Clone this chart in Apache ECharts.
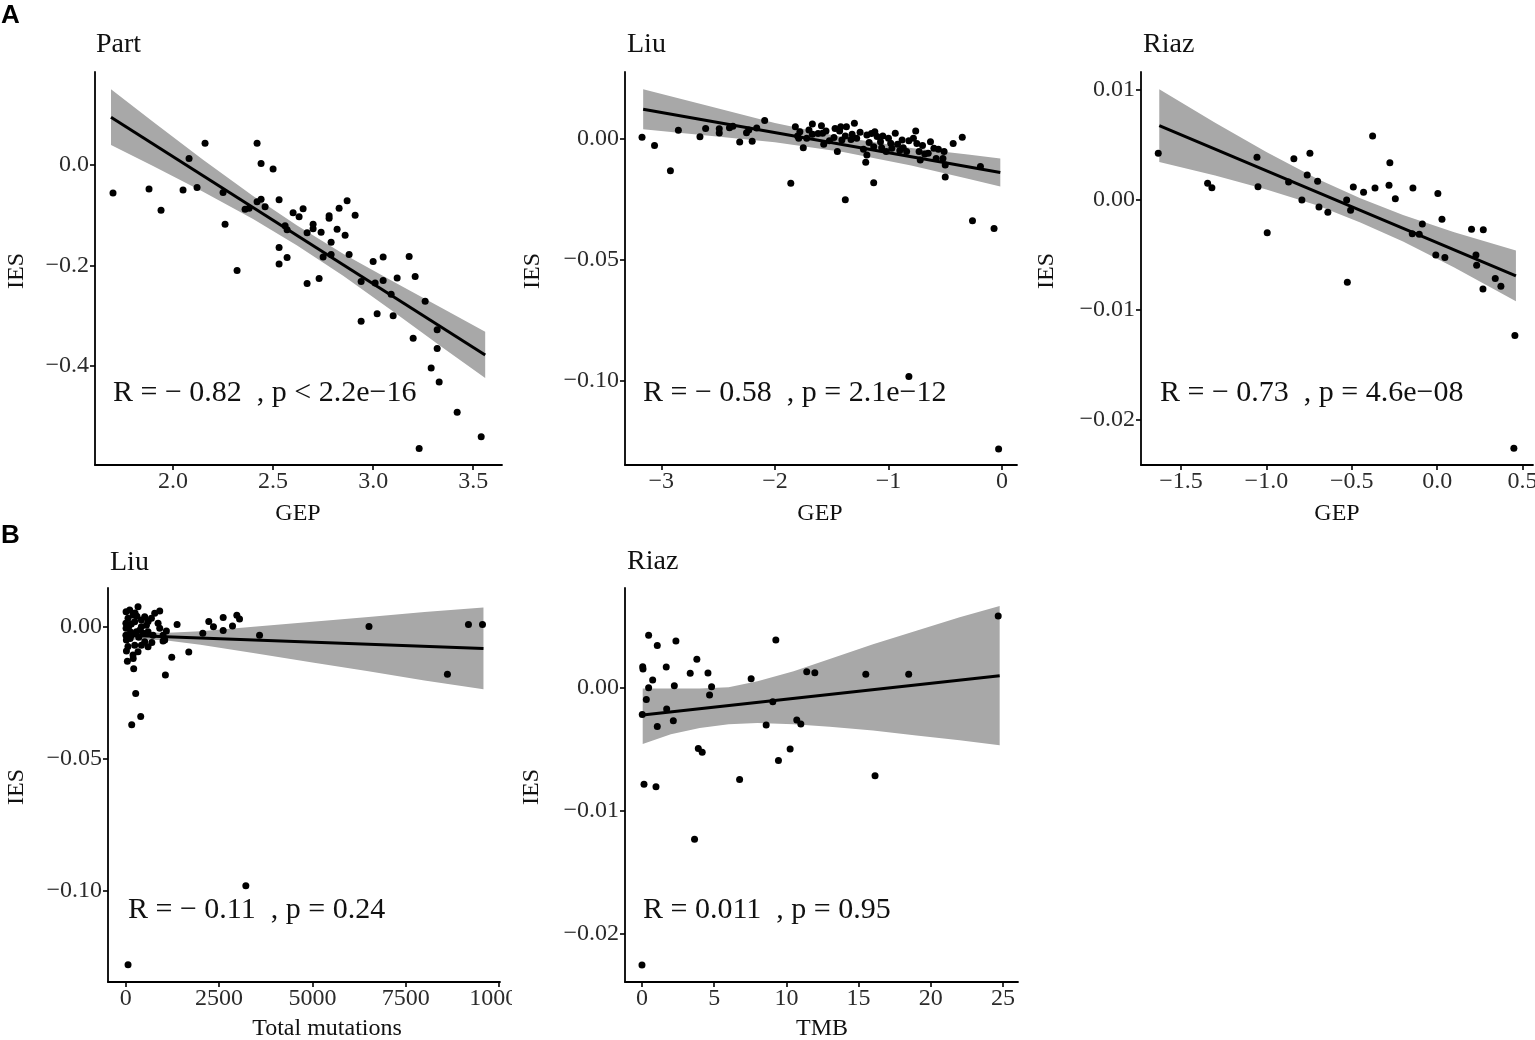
<!DOCTYPE html>
<html>
<head>
<meta charset="utf-8">
<title>IES correlation panels</title>
<script src="https://cdn.jsdelivr.net/npm/echarts@6/dist/echarts.min.js"></script>
<style>
	body { margin: 0; background: #fff; }
	#wrap { position: relative; width: 1535px; height: 1040px; overflow: hidden; }
	.panel { position: absolute; }
</style>
</head>
<body>
<div id="wrap">
	<div class="panel" id="a1" style="left:0;top:0;width:510px;height:535px"></div>
	<div class="panel" id="a2" style="left:510px;top:0;width:510px;height:535px"></div>
	<div class="panel" id="a3" style="left:1020px;top:0;width:515px;height:535px"></div>
	<div class="panel" id="b1" style="left:0;top:520px;width:512px;height:520px"></div>
	<div class="panel" id="b2" style="left:512px;top:520px;width:508px;height:520px"></div>
</div>
<script>
// ---- A: Part, GEP vs IES
var partX = [1.70, 1.88, 1.94, 2.05, 2.08, 2.12, 2.16, 2.25, 2.26, 2.32, 2.36, 2.38, 2.42, 2.42, 2.44, 2.44, 2.46, 2.50, 2.53, 2.53,
	2.53, 2.56, 2.57, 2.57, 2.60, 2.63, 2.65, 2.67, 2.67, 2.70, 2.70, 2.73, 2.74, 2.75, 2.78, 2.78, 2.79, 2.79, 2.82, 2.83,
	2.86, 2.87, 2.88, 2.91, 2.94, 2.94, 3.00, 3.01, 3.02, 3.05, 3.05, 3.09, 3.10, 3.12, 3.18, 3.20, 3.21, 3.23, 3.26, 3.29,
	3.32, 3.32, 3.33, 3.42, 3.54];
var partY = [-0.056, -0.048, -0.090, -0.050, 0.013, -0.045, 0.043, -0.055, -0.118, -0.210, -0.088, -0.086, -0.073, 0.043, 0.003, -0.068, -0.083, -0.008, -0.069, -0.164,
	-0.197, -0.121, -0.129, -0.184, -0.095, -0.103, -0.087, -0.236, -0.135, -0.118, -0.127, -0.226, -0.134, -0.183, -0.101, -0.106, -0.154, -0.178, -0.128, -0.086,
	-0.140, -0.071, -0.178, -0.100, -0.311, -0.232, -0.192, -0.235, -0.296, -0.183, -0.230, -0.257, -0.300, -0.225, -0.182, -0.345, -0.222, -0.564, -0.271, -0.404,
	-0.328, -0.365, -0.432, -0.492, -0.541];
var partFitX = [1.69, 3.56];
var partFitY = [0.095, -0.378];
var partBandX = [1.69, 1.9, 2.15, 2.4, 2.62, 2.85, 3.1, 3.35, 3.56];
var partBandHi = [0.1505, 0.0859, 0.0106, -0.0616, -0.1203, -0.1765, -0.2317, -0.286, -0.332];
var partBandLo = [0.0395, -0.0021, -0.0534, -0.1076, -0.1603, -0.2205, -0.2917, -0.364, -0.424];

// ---- A: Liu, GEP vs IES
var liuGepX = [-3.17, -3.06, -2.92, -2.85, -2.66, -2.61, -2.49, -2.49, -2.40, -2.37, -2.31, -2.25, -2.23, -2.20, -2.16, -2.09, -1.86, -1.38, -1.13, -0.82, -0.50, -0.43, -0.35, -0.26, -0.19, -0.07, -0.03,
	-1.82, -1.78, -1.79, -1.75, -1.70, -1.67, -1.67, -1.59, -1.58, -1.57, -1.55, -1.47, -1.48, -1.45, -1.42, -1.43, -1.41, -1.37, -1.30, -1.32,
	-1.28, -1.19, -1.19, -1.20, -1.17, -1.12, -1.10, -1.07, -1.13, -1.06, -1.00, -0.94, -0.97, -0.88, -0.87, -0.84, -0.76, -0.78, -0.75, -0.73,
	-0.72, -0.63, -0.65, -0.60, -0.58, -0.51, -0.52, -0.50,
	-1.80, -1.72, -1.62, -1.52, -1.38, -1.33, -1.25, -1.15, -1.05, -0.98, -0.92, -0.82, -0.70, -0.68, -0.56, -1.22, -1.02, -0.90];
var liuGepY = [0.0004, -0.0030, -0.0134, 0.0033, 0.0006, 0.0041, 0.0039, 0.0022, 0.0044, 0.0050, -0.0015, 0.0023, 0.0034, -0.0012, 0.0043, 0.0074, -0.0186, -0.0254, -0.0184, -0.0984, -0.0160, -0.0021, 0.0004, -0.0341, -0.0117, -0.0373, -0.1284,
	0.0048, 0.0027, 0.0000, -0.0039, 0.0034, 0.0059, 0.0017, 0.0052, 0.0021, -0.0025, 0.0030, 0.0041, 0.0003, -0.0055, 0.0048, 0.0030, -0.0007, 0.0048, 0.0062, 0.0017,
	0.0000, 0.0014, -0.0069, -0.0099, -0.0017, 0.0027, 0.0007, -0.0014, -0.0035, -0.0039, 0.0000, 0.0021, -0.0041, -0.0007, -0.0039, -0.0055, 0.0030, 0.0000, -0.0021, -0.0055,
	-0.0090, -0.0014, -0.0062, -0.0041, -0.0083, -0.0055, -0.0083, -0.0110,
	0.0010, 0.0000, 0.0020, -0.0010, 0.0010, -0.0005, 0.0025, 0.0020, 0.0010, -0.0020, -0.0025, -0.0010, -0.0030, -0.0065, -0.0045, -0.0045, -0.0055, -0.0050];
var liuGepFitX = [-3.16, -0.015];
var liuGepFitY = [0.012, -0.0141];
var liuGepBandX = [-3.16, -2.6, -2.0, -1.4, -0.8, -0.3, -0.015];
var liuGepBandHi = [0.0203, 0.01355, 0.00637, 0.00039, -0.00399, -0.00674, -0.0083];
var liuGepBandLo = [0.0037, 0.00115, -0.00163, -0.00561, -0.01119, -0.01674, -0.0199];

// ---- A: Riaz, GEP vs IES
var riazGepX = [-1.633, -1.344, -1.319, -1.055, -1.049, -0.995, -0.870, -0.839, -0.792, -0.761, -0.745, -0.700, -0.692, -0.640, -0.530, -0.526, -0.507, -0.491, -0.431, -0.378,
	-0.364, -0.282, -0.277, -0.245, -0.146, -0.142, -0.105, -0.087, -0.008, 0.004, 0.028, 0.045, 0.201, 0.227, 0.231, 0.270, 0.268, 0.340, 0.373, 0.455, 0.449];
var riazGepY = [0.00424, 0.00152, 0.00112, 0.00388, 0.00121, -0.00297, 0.00164, 0.00376, 0.0, 0.00227, 0.00424, 0.0017, -0.00064, -0.00112, 0.0, -0.00748, -0.00094, 0.00118, 0.0007, 0.00582,
	0.00109, 0.00133, 0.00339, 0.00012, -0.00306, 0.00109, -0.00312, -0.00218, -0.005, 0.0006, -0.00176, -0.00524, -0.00267, -0.005, -0.00594, -0.0027, -0.00809, -0.00715, -0.00785, -0.01233, -0.02258];
var riazGepFitX = [-1.627, 0.461];
var riazGepFitY = [0.00676, -0.0069];
var riazGepBandX = [-1.627, -1.3, -1.0, -0.7, -0.45, -0.2, 0.1, 0.461];
var riazGepBandHi = [0.01006, 0.00702, 0.00436, 0.0019, 0.00016, -0.00137, -0.00293, -0.0046];
var riazGepBandLo = [0.00346, 0.00222, 0.00096, -0.0005, -0.00204, -0.00377, -0.00613, -0.0092];

// ---- B: Liu, total mutations vs IES
var liuMutX = [63, 3217, 161, 402, 268, 214, 45, 20, 1063, 1233, 1689, 1376, 2064, 2225, 2350, 2610, 2610, 2860, 2976, 3048, 3584, 6515, 8615, 9178, 9554,
	10, 107, 330, 509, 777, 911, 689, 867, 911, 1090, 1000, 5, 10, 5, 18, 196, 330, 420, 509, 598, 241, 152, 286, 465, 420, 241, 420, 554, 598, 62, 196, 732, 1000, 1045,
	80, 130, 150, 300, 350, 60, 120, 600, 380, 250, 700, 200];
var liuMutY = [-0.1280, -0.0981, -0.0371, -0.0340, -0.0253, -0.0159, -0.0131, -0.0092, -0.0183, -0.0116, -0.0096, 0.0008, -0.0025, 0.0020, 0.0000, 0.0035, -0.0014, 0.0003, 0.0043, 0.0029, -0.0032, 0.0001, -0.0180, 0.0008, 0.0008,
	0.0057, 0.0063, 0.0076, 0.0038, 0.0051, 0.0060, 0.0032, 0.0013, -0.0006, -0.0016, -0.0054, 0.0013, -0.0006, -0.0032, -0.0050, -0.0107, -0.0095, -0.0070, -0.0057, -0.0076, -0.0070, -0.0032, -0.0019, -0.0025, 0.0000, 0.0019, 0.0025, 0.0006, -0.0019, 0.0032, 0.0044, -0.0032, -0.0032, -0.0050,
	0.0000, -0.0020, 0.0010, 0.0040, -0.0040, -0.0075, -0.0045, 0.0020, -0.0012, 0.0052, -0.0060, -0.0120];
var liuMutFitX = [0, 9580];
var liuMutFitY = [-0.0032, -0.0082];
var liuMutBandX = [0, 1000, 2000, 3500, 5000, 6500, 8000, 9580];
var liuMutBandHi = [-0.0015, -0.0024, -0.0017, 0.0001, 0.0019, 0.0037, 0.0056, 0.0073];
var liuMutBandLo = [-0.0049, -0.0050, -0.0068, -0.0101, -0.0135, -0.0169, -0.0204, -0.0237];

// ---- B: Riaz, TMB vs IES
var riazTmbX = [0.0, 0.02, 0.05, 0.07, 0.14, 0.30, 0.46, 0.46, 0.74, 0.97, 1.06, 1.06, 1.68, 1.71, 2.17, 2.24, 2.35, 3.34, 3.64, 3.80,
	3.90, 4.17, 4.57, 4.68, 4.82, 6.76, 7.56, 8.60, 9.06, 9.27, 9.45, 10.26, 10.72, 11.00, 11.41, 11.97, 15.50, 16.14, 18.47, 24.67];
var riazTmbY = [-0.02255, -0.0022, 0.00168, 0.00149, -0.00786, -0.00098, 0.00423, -0.00003, 0.0006, -0.00808, 0.00339, -0.00317, 0.00165, -0.00176, -0.00271, 0.00014, 0.00377, 0.00114, -0.01233, 0.00228,
	-0.00496, -0.00528, 0.00117, -0.00062, 0.00005, -0.00748, 0.0007, -0.00306, -0.00117, 0.00385, -0.00593, -0.00501, -0.00266, -0.00298, 0.00127, 0.00119, 0.00106, -0.00718, 0.00106, 0.0058];
var riazTmbFitX = [0.05, 24.77];
var riazTmbFitY = [-0.00225, 0.00095];
var riazTmbBandX = [0.05, 2, 4, 6, 8, 10.5, 13, 16, 19, 22, 24.77];
var riazTmbBandHi = [-0.0001, -0.0001, -0.0001, 0.0000, 0.0005, 0.0013, 0.0023, 0.0035, 0.0046, 0.0057, 0.0066];
var riazTmbBandLo = [-0.0046, -0.0038, -0.0033, -0.0030, -0.0029, -0.0030, -0.0032, -0.0035, -0.0039, -0.0043, -0.0047];

// 刻度
var partXTicks = [2.0, 2.5, 3.0, 3.5], partXLabels = ['2.0', '2.5', '3.0', '3.5'];
var partYTicks = [0, -0.2, -0.4], partYLabels = ['0.0', '\u22120.2', '\u22120.4'];
var liuGepXTicks = [-3, -2, -1, 0], liuGepXLabels = ['\u22123', '\u22122', '\u22121', '0'];
var liuYTicks = [0, -0.05, -0.1], liuYLabels = ['0.00', '\u22120.05', '\u22120.10'];
var riazGepXTicks = [-1.5, -1.0, -0.5, 0, 0.5], riazGepXLabels = ['\u22121.5', '\u22121.0', '\u22120.5', '0.0', '0.5'];
var riazGepYTicks = [0.01, 0, -0.01, -0.02], riazGepYLabels = ['0.01', '0.00', '\u22120.01', '\u22120.02'];
var liuMutXTicks = [0, 2500, 5000, 7500, 10000], liuMutXLabels = ['0', '2500', '5000', '7500', '10000'];
var riazTmbXTicks = [0, 5, 10, 15, 20, 25], riazTmbXLabels = ['0', '5', '10', '15', '20', '25'];
var riazTmbYTicks = [0, -0.01, -0.02], riazTmbYLabels = ['0.00', '\u22120.01', '\u22120.02'];

var serif = '"Liberation Serif", "Times New Roman", serif';
var bandColor = '#a8a8a8';

function labeler(ticks, labels) {
	return function (v) {
		for (var i = 0; i < ticks.length; i++) {
			if (Math.abs(ticks[i] - v) < 1e-7 * Math.max(1, Math.abs(v))) return labels[i];
		}
		return '';
	};
}

function valueAxis(range, ticks, labels, isX) {
	return {
		type: 'value',
		min: range[0],
		max: range[1],
		axisLine: { show: true, onZero: false, lineStyle: { color: '#000', width: 1.8 } },
		axisTick: { show: true, customValues: ticks, length: 5, lineStyle: { color: '#000', width: 1.6 } },
		axisLabel: {
			customValues: ticks,
			formatter: labeler(ticks, labels),
			fontFamily: serif,
			fontSize: 24,
			color: '#2b2b2b',
			margin: isX ? 5 : 6
		},
		splitLine: { show: false }
	};
}

function text(x, y, str, size, extra) {
	var el = {
		type: 'text',
		x: x,
		y: y,
		style: {
			text: str,
			fontFamily: serif,
			fontSize: size,
			fill: '#111',
			textAlign: 'left',
			textVerticalAlign: 'middle',
			align: 'left',
			verticalAlign: 'middle'
		}
	};
	if (extra) {
		for (var k in extra) {
			if (k === 'style') {
				for (var s in extra.style) el.style[s] = extra.style[s];
			} else {
				el[k] = extra[k];
			}
		}
	}
	return el;
}

function pairs(xs, ys) {
	return xs.map(function (x, i) { return [x, ys[i]]; });
}

function makePanel(id, cfg) {
	var chart = echarts.init(document.getElementById(id), null, { renderer: 'canvas' });
	var graphics = [
		text(cfg.titlePos[0], cfg.titlePos[1], cfg.title, 28),
		text(cfg.yNamePos[0], cfg.yNamePos[1], 'IES', 24, {
			rotation: Math.PI / 2,
			style: { textAlign: 'center', align: 'center' }
		}),
		text(cfg.xNamePos[0], cfg.xNamePos[1], cfg.xName, 24, {
			style: { textAlign: 'center', align: 'center' }
		}),
		text(cfg.statPos[0], cfg.statPos[1], cfg.stat, 30)
	];
	if (cfg.letter) {
		graphics.push({
			type: 'text', x: 1, y: 16,
			style: {
				text: cfg.letter, fontFamily: '"Liberation Sans", Arial, sans-serif', fontWeight: 'bold',
				fontSize: 26, fill: '#000', textVerticalAlign: 'middle', verticalAlign: 'middle'
			}
		});
	}
	chart.setOption({
		animation: false,
		backgroundColor: 'transparent',
		grid: {
			left: cfg.grid[0], top: cfg.grid[1], width: cfg.grid[2], height: cfg.grid[3],
			containLabel: false, outerBoundsMode: 'none'
		},
		xAxis: valueAxis(cfg.xRange, cfg.xTicks, cfg.xLabels, true),
		yAxis: valueAxis(cfg.yRange, cfg.yTicks, cfg.yLabels, false),
		graphic: graphics,
		series: [
			{
				// 置信区间
				type: 'custom',
				silent: true,
				z: 1,
				data: [[cfg.bandX[0], cfg.bandLo[0]]],
				renderItem: function (params, api) {
					var pts = [];
					for (var i = 0; i < cfg.bandX.length; i++) pts.push(api.coord([cfg.bandX[i], cfg.bandHi[i]]));
					for (var j = cfg.bandX.length - 1; j >= 0; j--) pts.push(api.coord([cfg.bandX[j], cfg.bandLo[j]]));
					return { type: 'polygon', shape: { points: pts }, style: { fill: bandColor } };
				}
			},
			{
				type: 'scatter',
				silent: true,
				z: 2,
				symbol: 'circle',
				symbolSize: 7,
				itemStyle: { color: '#000', opacity: 1 },
				data: pairs(cfg.x, cfg.y)
			},
			{
				type: 'line',
				silent: true,
				z: 3,
				symbol: 'none',
				lineStyle: { color: '#000', width: 3 },
				data: pairs(cfg.fitX, cfg.fitY)
			}
		]
	});
	return chart;
}

makePanel('a1', {
	letter: 'A', title: 'Part', titlePos: [96, 45],
	grid: [95, 72, 407, 393], xRange: [1.61, 3.644], yRange: [-0.597, 0.185],
	xTicks: partXTicks, xLabels: partXLabels, yTicks: partYTicks, yLabels: partYLabels,
	x: partX, y: partY, fitX: partFitX, fitY: partFitY,
	bandX: partBandX, bandHi: partBandHi, bandLo: partBandLo,
	xName: 'GEP', xNamePos: [298, 514], yNamePos: [17, 271],
	stat: 'R = \u2212 0.82  , p < 2.2e\u221216', statPos: [113, 393]
});

makePanel('a2', {
	title: 'Liu', titlePos: [117, 45],
	grid: [115, 72, 392, 393], xRange: [-3.32, 0.132], yRange: [-0.135, 0.0274],
	xTicks: liuGepXTicks, xLabels: liuGepXLabels, yTicks: liuYTicks, yLabels: liuYLabels,
	x: liuGepX, y: liuGepY, fitX: liuGepFitX, fitY: liuGepFitY,
	bandX: liuGepBandX, bandHi: liuGepBandHi, bandLo: liuGepBandLo,
	xName: 'GEP', xNamePos: [310, 514], yNamePos: [23, 271],
	stat: 'R = \u2212 0.58  , p = 2.1e\u221212', statPos: [133, 393]
});

makePanel('a3', {
	title: 'Riaz', titlePos: [123, 45],
	grid: [121, 72, 392, 393], xRange: [-1.734, 0.561], yRange: [-0.0241, 0.01164],
	xTicks: riazGepXTicks, xLabels: riazGepXLabels, yTicks: riazGepYTicks, yLabels: riazGepYLabels,
	x: riazGepX, y: riazGepY, fitX: riazGepFitX, fitY: riazGepFitY,
	bandX: riazGepBandX, bandHi: riazGepBandHi, bandLo: riazGepBandLo,
	xName: 'GEP', xNamePos: [317, 514], yNamePos: [27, 271],
	stat: 'R = \u2212 0.73  , p = 4.6e\u221208', statPos: [140, 393]
});

makePanel('b1', {
	letter: 'B', title: 'Liu', titlePos: [110, 43],
	grid: [108, 68, 392, 394], xRange: [-474, 10023], yRange: [-0.1345, 0.01466],
	xTicks: liuMutXTicks, xLabels: liuMutXLabels, yTicks: liuYTicks, yLabels: liuYLabels,
	x: liuMutX, y: liuMutY, fitX: liuMutFitX, fitY: liuMutFitY,
	bandX: liuMutBandX, bandHi: liuMutBandHi, bandLo: liuMutBandLo,
	xName: 'Total mutations', xNamePos: [327, 509], yNamePos: [17, 267],
	stat: 'R = \u2212 0.11  , p = 0.24', statPos: [128, 390]
});

makePanel('b2', {
	title: 'Riaz', titlePos: [115, 42],
	grid: [113, 68, 393, 394], xRange: [-1.176, 26.04], yRange: [-0.02393, 0.00807],
	xTicks: riazTmbXTicks, xLabels: riazTmbXLabels, yTicks: riazTmbYTicks, yLabels: riazTmbYLabels,
	x: riazTmbX, y: riazTmbY, fitX: riazTmbFitX, fitY: riazTmbFitY,
	bandX: riazTmbBandX, bandHi: riazTmbBandHi, bandLo: riazTmbBandLo,
	xName: 'TMB', xNamePos: [310, 509], yNamePos: [20, 267],
	stat: 'R = 0.011  , p = 0.95', statPos: [131, 390]
});
</script>
</body>
</html>
